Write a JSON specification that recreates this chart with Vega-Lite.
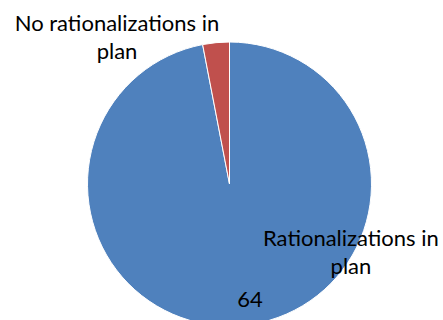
{
  "$schema": "https://vega.github.io/schema/vega-lite/v6.json",
  "width": 427,
  "height": 272,
  "autosize": {"type": "none"},
  "padding": {"left": 16, "top": 48, "right": 0, "bottom": 0},
  "background": "white",
  "config": {"view": {"stroke": null}},
  "data": {
    "values": [
      {"category": "Rationalizations in plan", "label": "Rationalizations in\nplan", "value": 64, "order": 1},
      {"category": "No rationalizations in plan", "label": "No rationalizations in\nplan", "value": 2, "order": 2}
    ]
  },
  "encoding": {
    "theta": {"field": "value", "type": "quantitative", "stack": true},
    "order": {"field": "order", "type": "quantitative"}
  },
  "layer": [
    {
      "mark": {"type": "arc", "radius": 142, "stroke": "white", "strokeWidth": 1},
      "encoding": {
        "color": {
          "field": "category",
          "type": "nominal",
          "scale": {"domain": ["Rationalizations in plan", "No rationalizations in plan"], "range": ["#4F81BD", "#C0504D"]},
          "legend": null
        }
      }
    },
    {
      "mark": {"type": "text", "radius": 120, "dx": 9, "dy": 4, "font": "Lato", "fontSize": 22, "color": "black", "align": "center", "baseline": "alphabetic"},
      "encoding": {
        "text": {"condition": {"test": "datum.order === 1", "field": "value", "type": "quantitative"}, "value": ""}
      }
    },
    {
      "mark": {"type": "text", "radius": 120, "dx": 110, "dy": -57, "font": "Lato", "fontSize": 22, "lineHeight": 28, "lineBreak": "\n", "color": "black", "align": "center", "baseline": "alphabetic"},
      "encoding": {
        "text": {"condition": {"test": "datum.order === 1", "field": "label"}, "value": ""}
      }
    },
    {
      "mark": {"type": "text", "radius": 142, "dx": -99, "dy": -12, "font": "Lato", "fontSize": 22, "lineHeight": 28, "lineBreak": "\n", "color": "black", "align": "center", "baseline": "alphabetic"},
      "encoding": {
        "text": {"condition": {"test": "datum.order === 2", "field": "label"}, "value": ""}
      }
    }
  ]
}
